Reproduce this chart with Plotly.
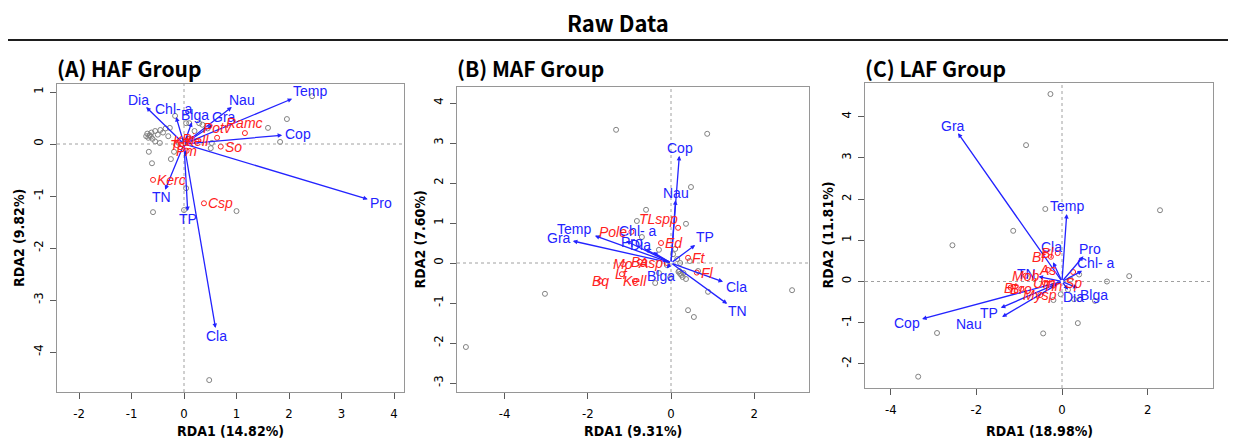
import math
import plotly.graph_objects as go

# ---------------- DATA ----------------
# Panel A (HAF Group)
a_site_x = [2.44, 1.96, 1.60, 1.83, 0.53, 0.51, -0.17, 0.04, 0.10, 0.29, 0.35, -0.65, -0.70, -0.68, -0.62,
            -0.72, -0.60, -0.55, -0.50, -0.45, -0.40, -0.35, -0.30, -0.67, -0.61, -0.25, -0.19, -0.10, -0.27,
            -0.46, -0.55, 0.04, -0.59, 0.00, 1.00, 0.48, 0.20, 0.45, 0.15, -0.66, -0.63]
a_site_y = [0.92, 0.48, 0.31, 0.04, 0.02, -0.08, 0.54, 0.40, 0.40, 0.40, 0.37, 0.17, 0.20, 0.12, 0.22,
            0.15, 0.10, 0.25, 0.18, 0.27, 0.22, 0.30, 0.15, -0.15, -0.37, -0.29, -0.15, 0.02, 0.31,
            0.02, 0.05, -0.85, -1.31, -1.27, -1.29, -4.54, 0.25, 0.30, 0.10, 0.16, 0.14]
a_env = ["Dia", "Chl- a", "Blga", "Nau", "Temp", "Gra", "Cop", "Pro", "TN", "TP", "Cla"]
a_env_x = [-0.72, -0.15, 0.15, 0.91, 2.06, 0.55, 1.87, 3.50, -0.36, 0.07, 0.60]
a_env_y = [0.71, 0.52, 0.42, 0.71, 0.87, 0.37, 0.17, -1.06, -0.88, -1.29, -3.54]
a_sp = ["Ramc", "Potv", "So", "Kerc", "Csp", "Ts", "Ka", "Pi", "Kell", "Pm"]
a_sp_x = [1.16, 0.63, 0.70, -0.59, 0.38, -0.14, -0.05, 0.08, 0.24, 0.05]
a_sp_y = [0.21, 0.12, -0.05, -0.69, -1.14, -0.02, 0.06, 0.10, 0.05, -0.13]
a_sp_pos = [3, 3, 4, 4, 4, 0, 0, 0, 0, 0]

# Panel B (MAF Group)
b_site_x = [-1.32, 0.87, 0.48, -0.60, -0.82, 0.36, -0.29, -0.70, -3.03, 0.41, 0.55, -0.38, -0.02, 0.36,
            0.89, 0.65, 0.22, 0.25, 0.30, 0.18, 0.28, 0.20, 0.05, 0.22, 0.15, 0.10, -0.29, -4.93, 2.91,
            0.45, -0.10]
b_site_y = [3.33, 3.23, 1.90, 1.33, 1.05, 0.98, 0.33, 0.65, -0.77, -1.18, -1.35, -0.50, -0.36, -0.40,
            -0.72, -0.20, -0.27, -0.30, -0.25, -0.22, -0.35, -0.20, 0.22, 0.00, 0.10, 0.35, -0.25, -2.10,
            -0.68, 0.05, -0.05]
b_env = ["Cop", "Nau", "Temp", "Gra", "Chl- a", "Pro", "Dia", "TP", "Cla", "TN", "Blga"]
b_env_x = [0.20, 0.11, -1.83, -2.36, -1.08, -0.62, -0.43, 0.58, 1.25, 1.35, -0.10]
b_env_y = [2.68, 1.57, 0.68, 0.55, 0.55, 0.35, 0.27, 0.45, -0.47, -1.02, -0.14]
b_sp = ["TLspp", "Pole", "Ed", "Ft", "Fl", "Bq", "Kell", "Lf", "Mo", "Ba", "Asp"]
b_sp_x = [0.17, -0.95, -0.24, 0.41, 0.62, -1.70, -0.87, -1.18, -1.15, -0.75, -0.10]
b_sp_y = [0.88, 0.78, 0.50, 0.13, -0.24, -0.45, -0.45, -0.28, -0.03, 0.03, 0.00]
b_sp_pos = [5, 2, 4, 4, 4, 0, 0, 0, 0, 0, 2]

# Panel C (LAF Group)
c_site_x = [-0.27, -0.84, -0.39, 2.29, -1.14, -2.56, 1.57, 1.05, 0.40, 0.77, 0.42, 0.28, 0.37, -0.44,
            -2.92, -3.36, -0.03, -0.20, 0.14, 0.20]
c_site_y = [4.55, 3.31, 1.76, 1.73, 1.23, 0.88, 0.13, 0.00, 0.17, -0.47, -0.43, -0.43, -1.01, -1.26,
            -1.25, -2.31, -0.31, -0.45, -0.20, 0.05]
c_env = ["Gra", "Temp", "Pro", "Chl- a", "Cla", "Blga", "Dia", "TN", "TP", "Nau", "Cop"]
c_env_x = [-2.43, 0.11, 0.50, 0.47, -0.21, 0.37, 0.14, -0.55, -1.43, -1.40, -3.27]
c_env_y = [3.60, 1.64, 0.61, 0.26, 0.47, -0.16, -0.20, 0.12, -0.64, -0.86, -0.91]
c_sp = ["Bl", "Bf", "As", "Mob", "Sp", "Bt", "Bro", "Mysp", "Urn", "Tin"]
c_sp_x = [-0.10, -0.26, -0.33, -0.85, 0.26, -1.20, -0.95, -0.51, -0.40, -0.20]
c_sp_y = [0.69, 0.60, 0.28, 0.14, 0.23, -0.15, -0.18, -0.33, -0.04, -0.10]
c_sp_pos = [2, 2, 0, 0, 1, 0, 0, 0, 0, 0]

titles = ["(A) HAF Group", "(B) MAF Group", "(C) LAF Group"]
x_titles = ["RDA1 (14.82%)", "RDA1 (9.31%)", "RDA1 (18.98%)"]
y_titles = ["RDA2 (9.82%)", "RDA2 (7.60%)", "RDA2 (11.81%)"]
x_ticks = [[-2, -1, 0, 1, 2, 3, 4], [-4, -2, 0, 2], [-4, -2, 0, 2]]
y_ticks = [[-4, -3, -2, -1, 0, 1], [-3, -2, -1, 0, 1, 2, 3, 4], [-2, -1, 0, 1, 2, 3, 4]]

# ---------------- LAYOUT / STYLE ----------------
W, H = 1237, 441
# pixel boxes (left, right, top, bottom) and axis ranges
boxes = [(57, 404, 84, 392), (457, 809, 87, 392), (865, 1213, 83, 388)]
xranges = [[-2.419, 4.190], [-5.144, 3.317], [-4.603, 3.528]]
yranges = [[-4.769, 1.154], [-3.225, 4.400], [-2.585, 4.818]]
# manual pixel nudges for a few crowded arrow labels (panel index, label) -> (dx, dy); dy>0 = down
label_nudge = {(1, "Chl- a"): (27, -2), (2, "Nau"): (-20, 0), (2, "Cla"): (2, -8)}

BLUE = "rgb(35,35,255)"
RED = "rgb(255,30,30)"
GREY = "rgb(130,130,130)"
LAB_FS = 14
NARROW = "Liberation Sans Narrow, DejaVu Sans Condensed, Arial Narrow, sans-serif"
ARIAL = "Liberation Sans, Arial, sans-serif"
KFONT = "Noto Sans CJK KR, Noto Sans, sans-serif"

CW = {'a': .556, 'b': .556, 'c': .5, 'd': .556, 'e': .556, 'f': .278, 'g': .556, 'h': .556, 'i': .222,
      'j': .222, 'k': .5, 'l': .222, 'm': .833, 'n': .556, 'o': .556, 'p': .556, 'q': .556, 'r': .333,
      's': .5, 't': .278, 'u': .556, 'v': .5, 'w': .722, 'x': .5, 'y': .5, 'z': .5, 'A': .667, 'B': .667,
      'C': .722, 'D': .722, 'E': .667, 'F': .611, 'G': .778, 'H': .722, 'I': .278, 'J': .5, 'K': .667,
      'L': .556, 'M': .833, 'N': .722, 'O': .778, 'P': .667, 'Q': .778, 'R': .722, 'S': .667, 'T': .611,
      'U': .722, 'V': .667, 'W': .944, 'X': .667, 'Y': .667, 'Z': .611, ' ': .278, '-': .333}


def text_w(s, fs):
    return sum(CW.get(ch, .556) for ch in s) * fs


def arrow_label_xy(x, y, label, sx, sy, fs):
    """vegan::ordiArrowTextXY-like placement, computed in pixel space."""
    px, py = x * sx, y * sy
    w = text_w(label, fs)
    h = 0.72 * fs
    offx = math.copysign(w / 2 + h / 4, px)
    offy = math.copysign(0.75 * h, py)
    b = py / px if px != 0 else float("inf")
    move = offy / b if b != 0 else float("inf")
    if math.isfinite(move) and abs(move) <= abs(offx):
        offx = move
    else:
        offy = b * offx
    return (px + offx) / sx, (py + offy) / sy


fig = go.Figure()
annotations = []
shapes = []

panels = [
    (a_site_x, a_site_y, a_env, a_env_x, a_env_y, a_sp, a_sp_x, a_sp_y, a_sp_pos),
    (b_site_x, b_site_y, b_env, b_env_x, b_env_y, b_sp, b_sp_x, b_sp_y, b_sp_pos),
    (c_site_x, c_site_y, c_env, c_env_x, c_env_y, c_sp, c_sp_x, c_sp_y, c_sp_pos),
]

layout_axes = {}
for i, (sx_, sy_, env, ex, ey, sp, spx, spy, sppos) in enumerate(panels):
    n = "" if i == 0 else str(i + 1)
    xa, ya = "x" + n, "y" + n
    l, r, t, b = boxes[i]
    xdom = [l / W, r / W]
    ydom = [1 - b / H, 1 - t / H]
    pxu = (r - l) / (xranges[i][1] - xranges[i][0])
    pyu = (b - t) / (yranges[i][1] - yranges[i][0])

    axis_common = dict(showline=True, mirror=True, linecolor="rgb(150,150,150)", linewidth=1,
                       ticks="outside", ticklen=6, tickcolor="rgb(90,90,90)", tickwidth=1,
                       showgrid=False, zeroline=False,
                       tickfont=dict(family=NARROW, size=13, color="black"))
    layout_axes["xaxis" + n] = dict(domain=xdom, range=xranges[i], anchor=ya, tickmode="array",
                                    tickvals=x_ticks[i], ticktext=[str(v) for v in x_ticks[i]],
                                    ticklabelstandoff=3, **axis_common)
    layout_axes["yaxis" + n] = dict(domain=ydom, range=yranges[i], anchor=xa, tickmode="array",
                                    tickvals=y_ticks[i], ticktext=[str(v) for v in y_ticks[i]],
                                    tickangle=-90, ticklabelstandoff=2, **axis_common)

    # dotted zero lines
    shapes.append(dict(type="line", xref=xa, yref=ya + " domain", x0=0, x1=0, y0=0, y1=1,
                       line=dict(color="rgb(160,160,160)", width=1, dash="dot")))
    shapes.append(dict(type="line", xref=xa + " domain", yref=ya, x0=0, x1=1, y0=0, y1=0,
                       line=dict(color="rgb(160,160,160)", width=1, dash="dot")))

    # sites
    fig.add_trace(go.Scatter(x=sx_, y=sy_, mode="markers", xaxis=xa, yaxis=ya, showlegend=False,
                             marker=dict(symbol="circle-open", size=5, color=GREY, line=dict(width=1))))
    # species points
    fig.add_trace(go.Scatter(x=spx, y=spy, mode="markers", xaxis=xa, yaxis=ya, showlegend=False,
                             marker=dict(symbol="circle-open", size=5, color=RED, line=dict(width=1))))

    # environmental arrows
    for name, vx, vy in zip(env, ex, ey):
        annotations.append(dict(x=vx, y=vy, ax=0, ay=0, xref=xa, yref=ya, axref=xa, ayref=ya,
                                text="", showarrow=True, arrowhead=2, arrowsize=0.7, arrowwidth=1.3,
                                arrowcolor=BLUE, standoff=0))
    for name, vx, vy in zip(env, ex, ey):
        lx, ly = arrow_label_xy(vx, vy, name, pxu, pyu, LAB_FS)
        dx, dy = label_nudge.get((i, name), (0, 0))
        annotations.append(dict(x=lx, y=ly, xref=xa, yref=ya, text=name, showarrow=False,
                                font=dict(family=ARIAL, size=LAB_FS, color=BLUE),
                                xanchor="center", yanchor="middle", borderpad=0,
                                xshift=dx, yshift=-dy))

    # species labels (R-like pos codes: 1 below, 2 left, 3 above, 4 right, 5 left-above)
    for name, vx, vy, p in zip(sp, spx, spy, sppos):
        a = dict(x=vx, y=vy, xref=xa, yref=ya, text="<i>" + name + "</i>", showarrow=False,
                 font=dict(family=ARIAL, size=LAB_FS, color=RED), borderpad=0,
                 xanchor="center", yanchor="middle")
        if p == 1:
            a.update(yanchor="top", yshift=-2)
        elif p == 2:
            a.update(xanchor="right", xshift=-3)
        elif p == 3:
            a.update(yanchor="bottom", yshift=1)
        elif p == 4:
            a.update(xanchor="left", xshift=3)
        elif p == 5:
            a.update(xanchor="right", yanchor="bottom", xshift=1, yshift=0)
        annotations.append(a)

    # panel title
    annotations.append(dict(x=(l - 2) / W, y=1 - 68 / H, xref="paper", yref="paper", text="<b>" + titles[i] + "</b>",
                            showarrow=False, xanchor="left", yanchor="middle",
                            font=dict(family=KFONT, size=21, color="black")))
    # axis titles
    annotations.append(dict(x=(l + r) / 2 / W, y=1 - 431 / H, xref="paper", yref="paper",
                            text="<b>" + x_titles[i] + "</b>", showarrow=False, xanchor="center",
                            yanchor="middle", font=dict(family=NARROW, size=14, color="black")))
    annotations.append(dict(x=(l - 38) / W, y=1 - (t + b) / 2 / H, xref="paper", yref="paper",
                            text="<b>" + y_titles[i] + "</b>", showarrow=False, xanchor="center",
                            yanchor="middle", textangle=-90, font=dict(family=NARROW, size=14, color="black")))

# main title and rule
annotations.append(dict(x=618 / W, y=1 - 22 / H, xref="paper", yref="paper", text="<b>Raw Data</b>",
                        showarrow=False, xanchor="center", yanchor="middle",
                        font=dict(family=KFONT, size=22, color="black")))
shapes.append(dict(type="line", xref="paper", yref="paper", x0=8 / W, x1=1228 / W, y0=1 - 40 / H,
                   y1=1 - 40 / H, line=dict(color="rgb(30,30,30)", width=2)))

fig.update_layout(width=W, height=H, margin=dict(l=0, r=0, t=0, b=0), paper_bgcolor="white",
                  plot_bgcolor="white", annotations=annotations, shapes=shapes, showlegend=False,
                  **layout_axes)

fig.write_html("out.html")
